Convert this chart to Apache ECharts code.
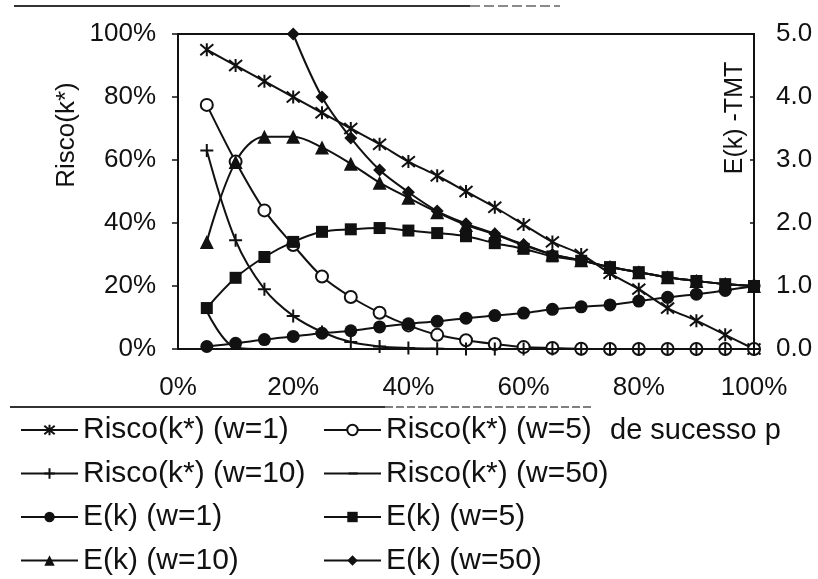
<!DOCTYPE html>
<html>
<head>
<meta charset="utf-8">
<script src="https://cdn.jsdelivr.net/npm/echarts@6/dist/echarts.min.js"></script>
<style>
html, body { margin: 0; padding: 0; background: #fff; }
#main { width: 818px; height: 579px; }
</style>
</head>
<body>
<div id="main"></div>
<script>
// probabilidade de sucesso p (%)
const pValues = [5, 10, 15, 20, 25, 30, 35, 40, 45, 50, 55, 60, 65, 70, 75, 80, 85, 90, 95, 100];
const leftTicks = [0, 20, 40, 60, 80, 100];
const rightTicks = [0, 1, 2, 3, 4, 5];

// Risco(k*) em %
const riscoW1 = [95, 90, 85, 80, 75, 70, 65, 59.5, 55, 50, 45, 39.5, 34, 30, 24, 19, 13, 9, 4.5, 0];
const riscoW5 = [77.5, 59.5, 44, 33, 23, 16.5, 11.5, 7.5, 4.5, 2.8, 1.6, 0.6, 0.3, 0.1, 0, 0, 0, 0, 0, 0];
const riscoW10 = [63, 34.5, 19, 10.5, 5.4, 2.2, 0.8, 0.3, 0.1, 0, 0, 0, 0, 0, 0, 0, 0, 0, 0, 0];
const riscoW50 = [12, 0.5, 0, 0, 0, 0, 0, 0, 0, 0, 0, 0, 0, 0, 0, 0, 0, 0, 0, 0];

// E(k) - TMT
const ekW1 = [0.04, 0.09, 0.15, 0.2, 0.25, 0.29, 0.35, 0.4, 0.44, 0.49, 0.53, 0.57, 0.63, 0.67, 0.7, 0.76, 0.82, 0.87, 0.93, 1.0];
const ekW5 = [0.65, 1.13, 1.46, 1.7, 1.86, 1.9, 1.92, 1.88, 1.84, 1.79, 1.68, 1.59, 1.47, 1.4, 1.3, 1.22, 1.14, 1.08, 1.03, 1.0];
const ekW10 = [1.7, 2.97, 3.37, 3.37, 3.2, 2.94, 2.64, 2.4, 2.17, 1.97, 1.82, 1.65, 1.5, 1.41, 1.3, 1.22, 1.14, 1.08, 1.03, 1.0];
const ekW50 = [null, null, null, 5.0, 4.0, 3.35, 2.84, 2.49, 2.19, 1.99, 1.83, 1.66, 1.5, 1.41, 1.3, 1.22, 1.14, 1.08, 1.03, 1.0];

const ink = "#111";
const font = "Liberation Sans, Arial, sans-serif";

const asterisk = "path://M0,0L10,10M10,0L0,10M5,-1L5,11";
const plus = "path://M0,5L10,5M5,0L5,10";
// tiny end points keep the bounding box square so the dash stays flat
const dash = "path://M0,0L0.01,0M1,4L9,4L9,6L1,6ZM0,10L0.01,10";

function pairs(vals) {
    return pValues.map((p, i) => [p, vals[i]]);
}

function line(name, vals, symbol, size, yIndex, extra) {
    return Object.assign({
        name: name,
        type: "line",
        yAxisIndex: yIndex,
        data: pairs(vals),
        smooth: 0.35,
        symbol: symbol,
        symbolSize: size,
        showAllSymbol: true,
        lineStyle: { color: ink, width: 2 },
        itemStyle: { color: ink, borderColor: ink, borderWidth: 0 },
        emphasis: { disabled: true },
        animation: false,
    }, extra || {});
}

const strokeStyle = { itemStyle: { color: ink, borderColor: ink, borderWidth: 2 } };

const myChart = echarts.init(document.getElementById("main"));
const legendText = { fontSize: 30, lineHeight: 30, color: ink, fontFamily: font };
const option = {
    backgroundColor: "#fff",
    textStyle: { fontFamily: font, color: ink },
    grid: {
        left: 178, right: 64, top: 34, bottom: 230,
        show: true, borderColor: ink, borderWidth: 2, backgroundColor: "#fff",
    },
    legend: [{
        orient: "vertical",
        left: 20, top: 415, padding: 0,
        itemWidth: 57, itemHeight: 13, itemGap: 13.5,
        textStyle: legendText,
        data: ["Risco(k*) (w=1)", "Risco(k*) (w=10)", "E(k) (w=1)", "E(k) (w=10)"],
    }, {
        orient: "vertical",
        left: 323, top: 415, padding: 0,
        itemWidth: 57, itemHeight: 13, itemGap: 13.5,
        textStyle: legendText,
        data: ["Risco(k*) (w=5)", "Risco(k*) (w=50)", "E(k) (w=5)", "E(k) (w=50)"],
    }],
    xAxis: {
        type: "value",
        min: 0, max: 100, interval: 20,
        axisLine: { show: true, lineStyle: { color: ink, width: 2 } },
        axisTick: { show: false },
        splitLine: { show: false },
        axisLabel: { formatter: "{value}%", fontSize: 26, margin: 26, color: ink },
    },
    yAxis: [{
        type: "value",
        min: leftTicks[0], max: leftTicks[leftTicks.length - 1], interval: 20,
        axisLine: { show: true, lineStyle: { color: ink, width: 2 } },
        axisTick: { show: true, length: 6, lineStyle: { color: ink, width: 1.5 } },
        splitLine: { show: false },
        axisLabel: { formatter: "{value}%", fontSize: 26, margin: 22, color: ink },
    }, {
        type: "value",
        position: "right",
        min: rightTicks[0], max: rightTicks[rightTicks.length - 1], interval: 1,
        axisLine: { show: true, lineStyle: { color: ink, width: 2 } },
        axisTick: { show: true, inside: true, length: 4, lineStyle: { color: ink, width: 1.5 } },
        splitLine: { show: false },
        axisLabel: { formatter: (v) => v.toFixed(1), fontSize: 26, margin: 22, color: ink },
    }],
    graphic: [
        { type: "text", x: 67, y: 135, rotation: Math.PI / 2,
          style: { text: "Risco(k*)", fontSize: 26, fontFamily: font, fill: ink, align: "center", verticalAlign: "middle" } },
        { type: "text", x: 735, y: 118, rotation: Math.PI / 2,
          style: { text: "E(k) -TMT", fontSize: 25, fontFamily: font, fill: ink, align: "center", verticalAlign: "middle" } },
        { type: "text", x: 610, y: 431,
          style: { text: "de sucesso p", fontSize: 29, fontFamily: font, fill: ink, align: "left", verticalAlign: "middle" } },
        { type: "line", shape: { x1: 10, y1: 407, x2: 385, y2: 407 }, style: { stroke: "#333", lineWidth: 2 } },
        { type: "line", shape: { x1: 385, y1: 407, x2: 592, y2: 407 }, style: { stroke: "#555", lineWidth: 1.5, lineDash: [8, 3] } },
        { type: "line", shape: { x1: 14, y1: 6, x2: 470, y2: 6 }, style: { stroke: "#333", lineWidth: 2 } },
        { type: "line", shape: { x1: 470, y1: 6, x2: 560, y2: 6 }, style: { stroke: "#666", lineWidth: 1.5, lineDash: [10, 4] } },
    ],
    series: [
        line("Risco(k*) (w=1)", riscoW1, asterisk, 13, 0, strokeStyle),
        line("Risco(k*) (w=5)", riscoW5, "emptyCircle", 12, 0, { itemStyle: { color: ink, borderColor: ink, borderWidth: 2 } }),
        line("Risco(k*) (w=10)", riscoW10, plus, 13, 0, strokeStyle),
        line("Risco(k*) (w=50)", riscoW50, dash, 10, 0),
        line("E(k) (w=1)", ekW1, "circle", 13, 1),
        line("E(k) (w=5)", ekW5, "rect", 12, 1),
        line("E(k) (w=10)", ekW10, "triangle", 14, 1),
        line("E(k) (w=50)", ekW50, "diamond", 13, 1),
    ],
};
myChart.setOption(option);
</script>
</body>
</html>
